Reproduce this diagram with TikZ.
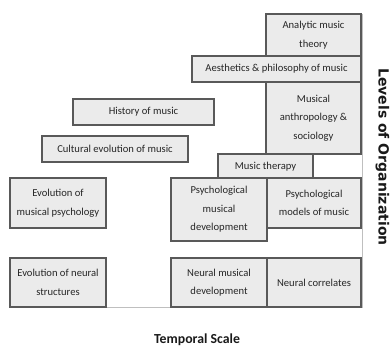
\documentclass[tikz,border=0pt]{standalone}
\usepackage{fontspec}
\setmainfont{Carlito}
\newfontfamily\axisfont{DejaVu Sans}
\usetikzlibrary{positioning}
\tikzset{
  node-f/.style={draw=black!65,fill=black!8,line width=1.2pt,rectangle,inner sep=0pt,align=center,font=\fontsize{10.6}{18.5}\selectfont,text=black!85},
  axisline/.style={draw,black!25,line width=1pt},
  axislabel/.style={font=\fontsize{13.8}{16}\selectfont\bfseries,text=black!90},
}
\begin{document}
\begin{tikzpicture}[x=1pt,y=-1pt]

  \useasboundingbox (0,0) rectangle (390,349);

  % axes
  \coordinate (origin) at (10,307);
  \coordinate (xend)   at (362,307);
  \coordinate (yend)   at (362,14);
  \draw[axisline] (origin) -- (xend) -- (yend);

  % upper levels
  \node[node-f,minimum width=95pt,minimum height=42pt]  (analytic) at (313.5,35)  {Analytic music\\theory};
  \node[node-f,minimum width=169pt,minimum height=26pt] (aesth)    at (276.5,69)  {Aesthetics \& philosophy of music};
  \node[node-f,minimum width=95pt,minimum height=72pt]  (anthro)   at (313.5,118) {Musical\\anthropology \&\\sociology};
  \node[node-f,minimum width=141pt,minimum height=26pt] (history)  at (143.5,112) {History of music};
  \node[node-f,minimum width=146pt,minimum height=26pt] (cultural) at (115,149)   {Cultural evolution of music};
  \node[node-f,minimum width=95pt,minimum height=25pt]  (therapy)  at (265.5,166.5) {Music therapy};

  % psychological level
  \node[node-f,minimum width=96pt,minimum height=50pt]  (evopsych) at (58,203)    {Evolution of\\musical psychology};
  \node[node-f,minimum width=96pt,minimum height=63pt]  (psychdev) at (219,209.5) {Psychological\\musical\\development};
  \node[node-f,minimum width=94pt,minimum height=50pt]  (psychmod) at (314,203)   {Psychological\\models of music};

  % neural level
  \node[node-f,minimum width=96pt,minimum height=49pt]  (evoneur)  at (58,282.5)  {Evolution of neural\\structures};
  \node[node-f,minimum width=96pt,minimum height=49pt]  (neurdev)  at (219,282.5) {Neural musical\\development};
  \node[node-f,minimum width=94pt,minimum height=49pt]  (neurcorr) at (314,282.5) {Neural correlates};

  % axis labels
  \node[axislabel] (tscale) at (197,340) {Temporal Scale};
  \node[axislabel,font=\axisfont\fontsize{14}{15}\selectfont\bfseries,rotate=-90] (levels) at (382.5,157) {Levels of Organization};

\end{tikzpicture}
\end{document}
